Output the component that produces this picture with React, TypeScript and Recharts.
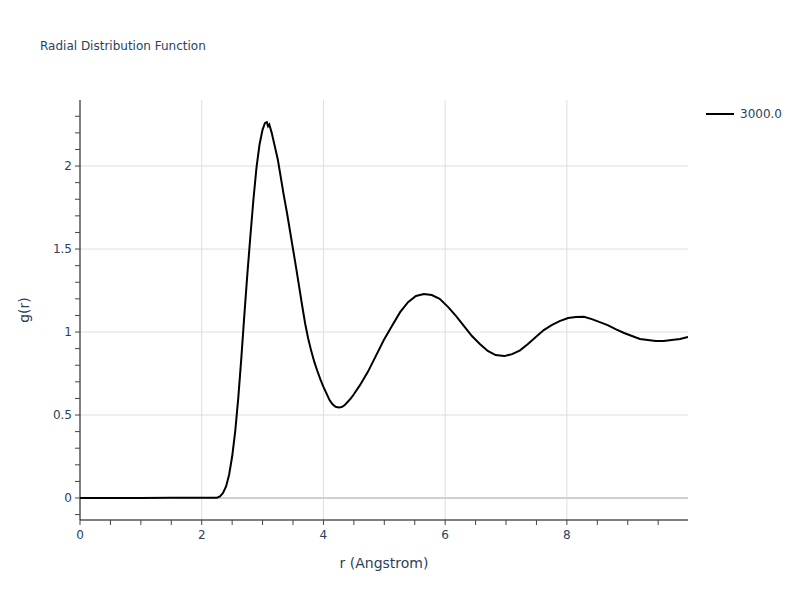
import React from 'react';
import { LineChart, Line, XAxis, YAxis, ReferenceLine, Label } from 'recharts';

const chartTitle = 'Radial Distribution Function';
const seriesName = '3000.0';
const xAxisTitle = 'r (Angstrom)';
const yAxisTitle = 'g(r)';

const rValues = [
  0, 0.5, 1.0, 1.5, 2.0, 2.2, 2.25, 2.3, 2.35, 2.4, 2.45, 2.5, 2.55, 2.6, 2.65, 2.7, 2.75, 2.8,
  2.85, 2.9, 2.95, 3.0, 3.04, 3.07, 3.09, 3.11, 3.15, 3.2, 3.25, 3.3, 3.35, 3.4, 3.45, 3.5, 3.55,
  3.6, 3.65, 3.7, 3.75, 3.8, 3.85, 3.9, 3.95, 4.0, 4.05, 4.1, 4.15, 4.2, 4.25, 4.3, 4.35, 4.4,
  4.45, 4.5, 4.6, 4.73, 4.86, 4.99, 5.13, 5.26, 5.39, 5.52, 5.65, 5.78, 5.91, 6.05, 6.18, 6.31,
  6.44, 6.57, 6.7, 6.83, 6.97, 7.1, 7.23, 7.36, 7.49, 7.62, 7.75, 7.88, 8.02, 8.15, 8.28, 8.41,
  8.54, 8.67, 8.8, 8.94, 9.07, 9.2, 9.33, 9.46, 9.59, 9.72, 9.86, 9.99,
];
const gValues = [
  0, 0, 0, 0.001, 0.001, 0.001, 0.002, 0.01, 0.03, 0.07, 0.14, 0.25, 0.4, 0.6, 0.84, 1.1, 1.35, 1.58,
  1.8, 1.99, 2.13, 2.22, 2.26, 2.265, 2.24, 2.25, 2.2, 2.12, 2.04, 1.93, 1.82, 1.72, 1.61, 1.5, 1.39,
  1.275, 1.16, 1.05, 0.96, 0.885, 0.82, 0.765, 0.715, 0.67, 0.63, 0.59, 0.565, 0.55, 0.545, 0.548, 0.56, 0.58,
  0.6, 0.625, 0.68, 0.76, 0.855, 0.95, 1.04, 1.12, 1.18, 1.217, 1.229, 1.223, 1.2, 1.15, 1.096, 1.036,
  0.976, 0.928, 0.886, 0.861, 0.855, 0.867, 0.89, 0.928, 0.97, 1.012, 1.042, 1.066, 1.084, 1.09, 1.092, 1.078,
  1.06, 1.042, 1.018, 0.994, 0.976, 0.958, 0.952, 0.946, 0.946, 0.952, 0.958, 0.97,
];

const xTicks = [0, 0.5, 1, 1.5, 2, 2.5, 3, 3.5, 4, 4.5, 5, 5.5, 6, 6.5, 7, 7.5, 8, 8.5, 9, 9.5];
const xLabelTicks = [0, 2, 4, 6, 8];
const yTicks = [-0.1, 0, 0.1, 0.2, 0.3, 0.4, 0.5, 0.6, 0.7, 0.8, 0.9, 1, 1.1, 1.2, 1.3, 1.4, 1.5, 1.6, 1.7, 1.8, 1.9, 2, 2.1, 2.2, 2.3];
const yLabelTicks = [0, 0.5, 1, 1.5, 2];
const xGrid = [2, 4, 6, 8];
const yGrid = [0.5, 1, 1.5, 2];
const xDomain = [0, 9.99];
const yDomain = [-0.1325, 2.398];

const data = rValues.map((r, i) => ({ r, g: gValues[i] }));

const FONT = '"DejaVu Sans", Verdana, sans-serif';
const TEXT_COLOR = '#2a3f5f';

const isLabeled = (list: number[], v: number) => list.some((t) => Math.abs(t - v) < 1e-6);

const XTick = (props: any) => {
  const { x, y, payload } = props;
  if (!isLabeled(xLabelTicks, payload.value)) return <g />;
  return (
    <text x={x} y={y} dy="0.71em" textAnchor="middle" fill={TEXT_COLOR} fontSize={12} fontFamily={FONT}>
      {payload.value}
    </text>
  );
};

const YTick = (props: any) => {
  const { x, y, payload } = props;
  if (!isLabeled(yLabelTicks, payload.value)) return <g />;
  return (
    <text x={x} y={y} dy="0.355em" textAnchor="end" fill={TEXT_COLOR} fontSize={12} fontFamily={FONT}>
      {payload.value}
    </text>
  );
};

const XTitle = (props: any) => {
  const vb = props.viewBox || {};
  const cx = vb.x + vb.width / 2;
  return (
    <text x={cx} y={vb.y + vb.height + 18} textAnchor="middle" fill={TEXT_COLOR} fontSize={14} fontFamily={FONT}>
      {xAxisTitle}
    </text>
  );
};

const YTitle = (props: any) => {
  const vb = props.viewBox || {};
  const tx = vb.x + 29;
  const ty = vb.y + vb.height / 2;
  return (
    <text x={tx} y={ty} transform={`rotate(-90 ${tx} ${ty})`} textAnchor="middle" fill={TEXT_COLOR} fontSize={14} fontFamily={FONT}>
      {yAxisTitle}
    </text>
  );
};

export default function App() {
  return (
    <div style={{ position: 'absolute', left: 0, top: 0, width: 800, height: 600, background: '#fff', fontFamily: FONT }}>
      <LineChart width={800} height={600} data={data} margin={{ top: 100, right: 112, bottom: 50, left: 0 }}>
        {xGrid.map((v) => (
          <ReferenceLine key={'gx' + v} x={v} stroke="#dedede" strokeWidth={1} />
        ))}
        {yGrid.map((v) => (
          <ReferenceLine key={'gy' + v} y={v} stroke="#dedede" strokeWidth={1} />
        ))}
        <ReferenceLine y={0} stroke="#d0d0d0" strokeWidth={2} />
        <XAxis
          dataKey="r"
          type="number"
          domain={xDomain}
          allowDataOverflow
          ticks={xTicks}
          interval={0}
          height={30}
          tickSize={5}
          tickMargin={5}
          axisLine={{ stroke: '#000', strokeWidth: 1 }}
          tickLine={{ stroke: '#444' }}
          tick={<XTick />}
        >
          <Label content={<XTitle />} />
        </XAxis>
        <YAxis
          type="number"
          domain={yDomain}
          allowDataOverflow
          ticks={yTicks}
          interval={0}
          width={80}
          tickSize={5}
          tickMargin={3}
          axisLine={{ stroke: '#000', strokeWidth: 1 }}
          tickLine={{ stroke: '#444' }}
          tick={<YTick />}
        >
          <Label content={<YTitle />} />
        </YAxis>
        <Line
          type="linear"
          dataKey="g"
          name={seriesName}
          stroke="#000"
          strokeWidth={2}
          dot={false}
          activeDot={false}
          isAnimationActive={false}
        />
      </LineChart>
      <div style={{ position: 'absolute', left: 40, top: 39, fontSize: 12, color: TEXT_COLOR, fontFamily: FONT, whiteSpace: 'nowrap' }}>
        {chartTitle}
      </div>
      <div style={{ position: 'absolute', left: 706, top: 105, display: 'flex', alignItems: 'center', height: 18 }}>
        <div style={{ width: 28, height: 2, background: '#000' }} />
        <span style={{ marginLeft: 6, fontSize: 12, color: TEXT_COLOR, fontFamily: FONT, whiteSpace: 'nowrap' }}>{seriesName}</span>
      </div>
    </div>
  );
}
